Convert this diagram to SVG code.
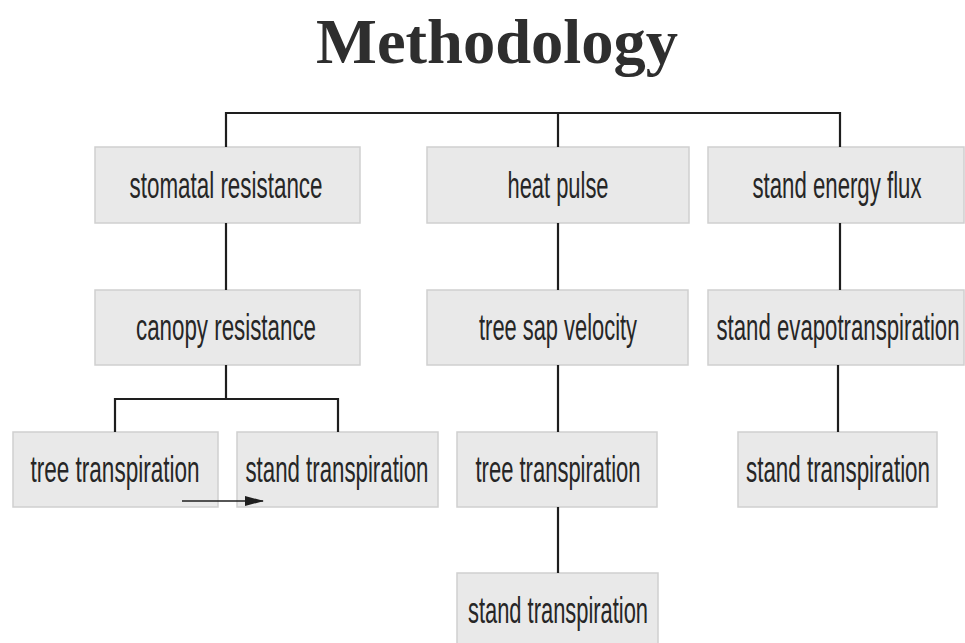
<svg xmlns="http://www.w3.org/2000/svg" width="965" height="643" viewBox="0 0 965 643">
<defs>
<style>
.box{fill:#e9e9e9;stroke:#cfcfcf;stroke-width:1.5}
.lbl{font-family:"Liberation Sans",Arial,sans-serif;font-size:37px;fill:#262626;text-anchor:middle}
.con{fill:none;stroke:#1e1e1e;stroke-width:2.2}
.title{font-family:"Liberation Serif","Times New Roman",serif;font-weight:bold;font-size:64px;fill:#2e2e2e;text-anchor:middle}
</style>
<marker id="ah" markerWidth="19" markerHeight="10" refX="18" refY="5" orient="auto" markerUnits="userSpaceOnUse">
<polygon points="0,0 19,5 0,10" fill="#1e1e1e"/>
</marker>
</defs>
<rect width="965" height="643" fill="#ffffff"/>
<text class="title" x="497" y="63" textLength="362" lengthAdjust="spacingAndGlyphs">Methodology</text>

<g id="stomatal">
<rect class="box" x="95" y="147" width="265" height="76"/>
<text class="lbl" transform="translate(226,198) scale(0.6,1)" textLength="321.7" lengthAdjust="spacingAndGlyphs">stomatal resistance</text>
</g>
<g id="heatpulse">
<rect class="box" x="427" y="147" width="262" height="76"/>
<text class="lbl" transform="translate(558,198) scale(0.6,1)" textLength="168.3" lengthAdjust="spacingAndGlyphs">heat pulse</text>
</g>
<g id="energyflux">
<rect class="box" x="708" y="147" width="256" height="76"/>
<text class="lbl" transform="translate(837,198) scale(0.6,1)" textLength="281.7" lengthAdjust="spacingAndGlyphs">stand energy flux</text>
</g>

<g id="canopy">
<rect class="box" x="95" y="290" width="265" height="75"/>
<text class="lbl" transform="translate(226,340) scale(0.6,1)" textLength="300" lengthAdjust="spacingAndGlyphs">canopy resistance</text>
</g>
<g id="sapvelocity">
<rect class="box" x="427" y="290" width="261" height="75"/>
<text class="lbl" transform="translate(558,340) scale(0.6,1)" textLength="263.3" lengthAdjust="spacingAndGlyphs">tree sap velocity</text>
</g>
<g id="evapotranspiration">
<rect class="box" x="708" y="290" width="256" height="75"/>
<text class="lbl" transform="translate(838,340) scale(0.6,1)" textLength="405" lengthAdjust="spacingAndGlyphs">stand evapotranspiration</text>
</g>

<g id="treetrans1">
<rect class="box" x="13" y="432" width="205" height="75"/>
<text class="lbl" transform="translate(115,482) scale(0.6,1)" textLength="281.7" lengthAdjust="spacingAndGlyphs">tree transpiration</text>
</g>
<g id="standtrans1">
<rect class="box" x="237" y="432" width="201" height="75"/>
<text class="lbl" transform="translate(337,482) scale(0.6,1)" textLength="305" lengthAdjust="spacingAndGlyphs">stand transpiration</text>
</g>
<g id="treetrans2">
<rect class="box" x="457" y="432" width="200" height="75"/>
<text class="lbl" transform="translate(558,482) scale(0.6,1)" textLength="275" lengthAdjust="spacingAndGlyphs">tree transpiration</text>
</g>
<g id="standtrans3">
<rect class="box" x="738" y="432" width="199" height="75"/>
<text class="lbl" transform="translate(838,482) scale(0.6,1)" textLength="306.7" lengthAdjust="spacingAndGlyphs">stand transpiration</text>
</g>
<g id="standtrans2">
<rect class="box" x="457" y="573" width="201" height="80"/>
<text class="lbl" transform="translate(558,623) scale(0.6,1)" textLength="300" lengthAdjust="spacingAndGlyphs">stand transpiration</text>
</g>

<g id="connectors">
<polyline class="con" points="226,147 226,113 840,113 840,147"/>
<line class="con" x1="558" y1="113" x2="558" y2="147"/>
<line class="con" x1="226" y1="223" x2="226" y2="290"/>
<line class="con" x1="558" y1="223" x2="558" y2="290"/>
<line class="con" x1="840" y1="223" x2="840" y2="290"/>
<line class="con" x1="226" y1="365" x2="226" y2="399"/>
<polyline class="con" points="115,432 115,399 338,399 338,432"/>
<line class="con" x1="558" y1="365" x2="558" y2="432"/>
<line class="con" x1="838" y1="365" x2="838" y2="432"/>
<line class="con" x1="558" y1="507" x2="558" y2="573"/>
<line x1="182" y1="501" x2="263" y2="501" stroke="#1e1e1e" stroke-width="1.6" marker-end="url(#ah)"/>
</g>
</svg>
